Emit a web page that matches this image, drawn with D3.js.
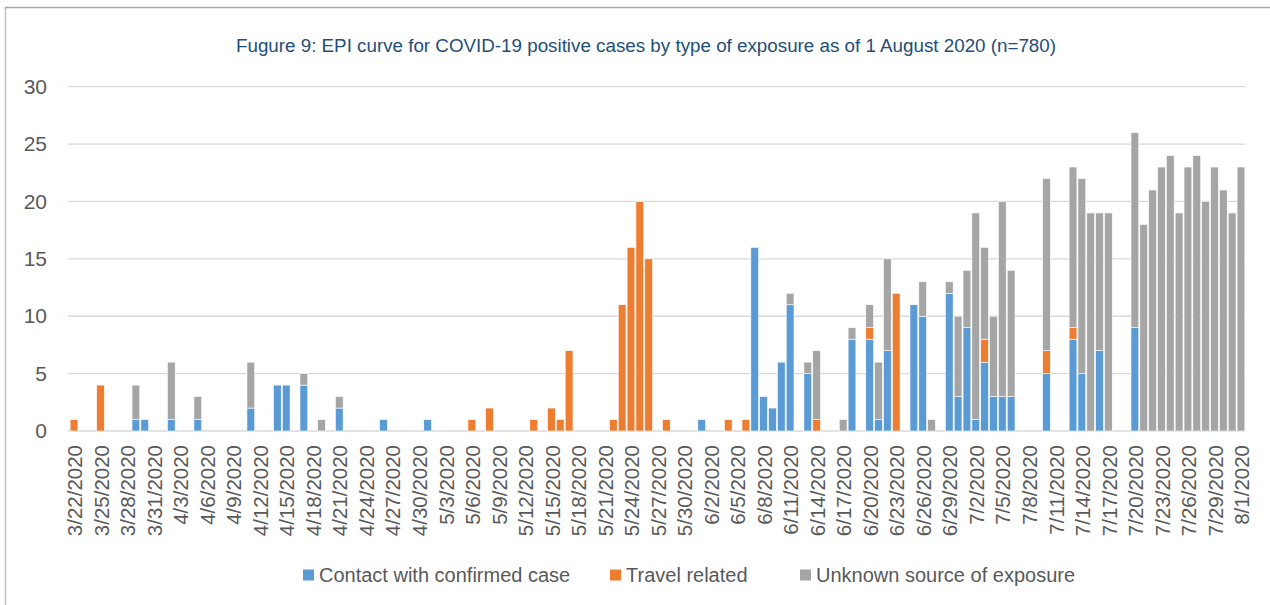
<!DOCTYPE html>
<html>
<head>
<meta charset="utf-8">
<script src="https://cdn.jsdelivr.net/npm/d3@7"></script>
<style>
  html, body { margin: 0; padding: 0; background: #fff; }
  svg { display: block; font-family: "Liberation Sans", Arial, sans-serif; }
</style>
</head>
<body>
<svg id="chart" width="1270" height="605"></svg>
<script>
// ---- Data ----
const startDate = "2020-03-22";
const endDate = "2020-08-01"; // inclusive

const contactCases = [
  0,0,0,0,0,0,0,1,1,0,
  0,1,0,0,1,0,0,0,0,0,
  2,0,0,4,4,0,4,0,0,0,
  2,0,0,0,0,1,0,0,0,0,
  1,0,0,0,0,0,0,0,0,0,
  0,0,0,0,0,0,0,0,0,0,
  0,0,0,0,0,0,0,0,0,0,
  0,1,0,0,0,0,0,16,3,2,
  6,11,0,5,0,0,0,0,8,0,
  8,1,7,0,0,11,10,0,0,12,
  3,9,1,6,3,3,3,0,0,0,
  5,0,0,8,5,0,7,0,0,0,
  9,0,0,0,0,0,0,0,0,0,
  0,0,0
];
const travelCases = [
  1,0,0,4,0,0,0,0,0,0,
  0,0,0,0,0,0,0,0,0,0,
  0,0,0,0,0,0,0,0,0,0,
  0,0,0,0,0,0,0,0,0,0,
  0,0,0,0,0,1,0,2,0,0,
  0,0,1,0,2,1,7,0,0,0,
  0,1,11,16,20,15,0,1,0,0,
  0,0,0,0,1,0,1,0,0,0,
  0,0,0,0,1,0,0,0,0,0,
  1,0,0,12,0,0,0,0,0,0,
  0,0,0,2,0,0,0,0,0,0,
  2,0,0,1,0,0,0,0,0,0,
  0,0,0,0,0,0,0,0,0,0,
  0,0,0
];
const unknownCases = [
  0,0,0,0,0,0,0,3,0,0,
  0,5,0,0,2,0,0,0,0,0,
  4,0,0,0,0,0,1,0,1,0,
  1,0,0,0,0,0,0,0,0,0,
  0,0,0,0,0,0,0,0,0,0,
  0,0,0,0,0,0,0,0,0,0,
  0,0,0,0,0,0,0,0,0,0,
  0,0,0,0,0,0,0,0,0,0,
  0,1,0,1,6,0,0,1,1,0,
  2,5,8,0,0,0,3,1,0,1,
  7,5,18,8,7,17,11,0,0,0,
  15,0,0,14,17,19,12,19,0,0,
  17,18,21,23,24,19,23,24,20,23,
  21,19,23
];

const seriesNames = ["Contact with confirmed case", "Travel related", "Unknown source of exposure"];
const seriesColors = ["#5B9BD5", "#ED7D31", "#A5A5A5"];
const yTicks = [0, 5, 10, 15, 20, 25, 30];
const xTickLabels = [
  "3/22/2020","3/25/2020","3/28/2020","3/31/2020","4/3/2020","4/6/2020","4/9/2020",
  "4/12/2020","4/15/2020","4/18/2020","4/21/2020","4/24/2020","4/27/2020","4/30/2020",
  "5/3/2020","5/6/2020","5/9/2020","5/12/2020","5/15/2020","5/18/2020","5/21/2020",
  "5/24/2020","5/27/2020","5/30/2020","6/2/2020","6/5/2020","6/8/2020","6/11/2020",
  "6/14/2020","6/17/2020","6/20/2020","6/23/2020","6/26/2020","6/29/2020","7/2/2020",
  "7/5/2020","7/8/2020","7/11/2020","7/14/2020","7/17/2020","7/20/2020","7/23/2020",
  "7/26/2020","7/29/2020","8/1/2020"
];
const titleText = "Fugure 9: EPI curve for COVID-19 positive cases by type of exposure as of 1 August 2020 (n=780)";

// ---- Build categories ----
const parse = d3.timeParse("%Y-%m-%d");
const fmt = d3.timeFormat("%-m/%-d/%Y");
const dates = d3.timeDay.range(parse(startDate), d3.timeDay.offset(parse(endDate), 1)).map(fmt);

const table = dates.map((d, i) => ({
  date: d,
  contact: contactCases[i],
  travel: travelCases[i],
  unknown: unknownCases[i]
}));
const keys = ["contact", "travel", "unknown"];
const stacked = d3.stack().keys(keys)(table);

// ---- Layout ----
const svg = d3.select("#chart");
const plot = { left: 69.6, right: 1245.4, top: 86.7, bottom: 431 };

const x = d3.scaleBand().domain(dates).range([plot.left, plot.right])
  .paddingInner(0.12).paddingOuter(0.06);
const y = d3.scaleLinear().domain([0, 30]).range([plot.bottom, plot.top]);

// Border
svg.append("line").attr("x1", 5.5).attr("x2", 5.5).attr("y1", 7).attr("y2", 605)
  .attr("stroke", "#bfbfbf").attr("stroke-width", 1.5);
svg.append("line").attr("x1", 5).attr("x2", 1270).attr("y1", 7.5).attr("y2", 7.5)
  .attr("stroke", "#a6a6a6").attr("stroke-width", 1.5);

// Title
svg.append("text").attr("x", 646).attr("y", 52).attr("text-anchor", "middle")
  .attr("fill", "#1F4E79").attr("font-size", 18.8).text(titleText);

// Gridlines
svg.append("g").selectAll("line").data(yTicks).join("line")
  .attr("x1", 68).attr("x2", plot.right)
  .attr("y1", d => y(d)).attr("y2", d => y(d))
  .attr("stroke", "#d9d9d9").attr("stroke-width", 1.3);

// Y axis labels
const yAxis = d3.axisLeft(y).tickValues(yTicks).tickSize(0).tickPadding(0);
const yg = svg.append("g").attr("transform", "translate(47,0)").call(yAxis);
yg.select(".domain").remove();
yg.selectAll("text").attr("font-size", 21).attr("fill", "#595959")
  .attr("font-family", "Liberation Sans, Arial, sans-serif");

// Bars
svg.append("g").selectAll("g").data(stacked).join("g")
  .attr("fill", (d, i) => seriesColors[i])
  .selectAll("rect").data(d => d.filter(s => s[1] - s[0] > 0)).join("rect")
  .attr("x", d => x(d.data.date))
  .attr("width", x.bandwidth())
  .attr("y", d => y(d[1]))
  .attr("height", d => y(d[0]) - y(d[1]))
  .attr("stroke", "#ffffff").attr("stroke-width", 0.6);

// X axis labels
const xAxis = d3.axisBottom(x).tickValues(xTickLabels).tickSize(0).tickPadding(0);
const xg = svg.append("g").attr("transform", `translate(0,${plot.bottom})`).call(xAxis);
xg.select(".domain").remove();
xg.selectAll("text")
  .attr("font-size", 20.5).attr("fill", "#595959")
  .attr("font-family", "Liberation Sans, Arial, sans-serif")
  .attr("text-anchor", "end")
  .attr("transform", "translate(1,14) rotate(-90)")
  .attr("x", 0).attr("y", 0).attr("dy", "0.35em");

// Legend
const legendX = [303, 610, 800];
const leg = svg.append("g").selectAll("g").data(seriesNames).join("g")
  .attr("transform", (d, i) => `translate(${legendX[i]},575)`);
leg.append("rect").attr("x", 0).attr("y", -5.5).attr("width", 11).attr("height", 11)
  .attr("fill", (d, i) => seriesColors[i]);
leg.append("text").attr("x", 16).attr("y", 0).attr("dy", "0.35em")
  .attr("font-size", 20).attr("fill", "#595959").text(d => d);
</script>
</body>
</html>
